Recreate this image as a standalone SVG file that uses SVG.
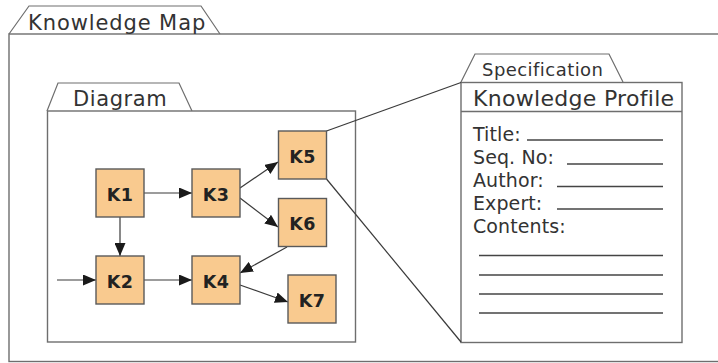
<svg xmlns="http://www.w3.org/2000/svg" width="718" height="363" viewBox="0 0 718 363">
  <defs>
    <marker id="arrow" markerWidth="13" markerHeight="11" refX="13" refY="5.5" orient="auto" markerUnits="userSpaceOnUse">
      <path d="M0,0 L13,5.5 L0,11 Z" fill="#1a1a1a"/>
    </marker>
    <style>
      .frame { fill: #ffffff; stroke: #6e6e6e; stroke-width: 1.4; }
      .tab { fill: #ffffff; stroke: #6e6e6e; stroke-width: 1.2; }
      .title { font-family: "DejaVu Sans", Verdana, sans-serif; fill: #333333; }
      .node rect { fill: #f9ca8f; stroke: #5a5a5a; stroke-width: 1.4; }
      .node text { font-family: "DejaVu Sans", Verdana, sans-serif; font-weight: bold; font-size: 17.5px; letter-spacing: 0.3px; fill: #222222; text-anchor: middle; }
      .edge { stroke: #3a3a3a; stroke-width: 1.2; fill: none; }
      .field { font-family: "DejaVu Sans", Verdana, sans-serif; font-size: 19px; letter-spacing: 0.1px; fill: #333333; }
      .rule { stroke: #444444; stroke-width: 1.3; }
    </style>
  </defs>

  <!-- Knowledge Map package -->
  <g id="knowledge-map">
    <path class="tab" d="M9,34 L29,6 L201,6 L220,34"/>
    <rect class="frame" x="9" y="34" width="715" height="327.5"/>
    <text class="title" x="28" y="30" font-size="21" letter-spacing="0.9">Knowledge Map</text>
  </g>

  <!-- Diagram package -->
  <g id="diagram">
    <path class="tab" d="M47,111 L58,83 L179,83 L192,111"/>
    <rect class="frame" x="47.5" y="111" width="308" height="231"/>
    <text class="title" x="73" y="106" font-size="21" letter-spacing="0.6">Diagram</text>
  </g>

  <!-- Knowledge Profile specification -->
  <g id="specification">
    <path class="tab" d="M461,82 L475,54 L609,54 L623,82"/>
    <rect class="frame" x="461" y="82.5" width="221" height="260"/>
    <line class="frame" x1="461" y1="111.5" x2="682" y2="111.5"/>
    <text class="title" x="482" y="76" font-size="18" letter-spacing="0.45">Specification</text>
    <text class="title" x="473" y="106" font-size="22" letter-spacing="0.3">Knowledge Profile</text>
    <text class="field" x="473" y="141">Title:</text>
    <text class="field" x="473" y="164">Seq. No:</text>
    <text class="field" x="473" y="187">Author:</text>
    <text class="field" x="473" y="210">Expert:</text>
    <text class="field" x="473" y="233">Contents:</text>
    <line class="rule" x1="527" y1="140" x2="663" y2="140"/>
    <line class="rule" x1="567" y1="164" x2="663" y2="164"/>
    <line class="rule" x1="557" y1="186.5" x2="663" y2="186.5"/>
    <line class="rule" x1="557" y1="209" x2="663" y2="209"/>
    <line class="rule" x1="479" y1="255.5" x2="663" y2="255.5"/>
    <line class="rule" x1="479" y1="275" x2="663" y2="275"/>
    <line class="rule" x1="479" y1="294" x2="663" y2="294"/>
    <line class="rule" x1="479" y1="313" x2="663" y2="313"/>
  </g>

  <!-- Connectors -->
  <g id="connectors">
    <line class="edge" x1="57" y1="280" x2="96" y2="280" marker-end="url(#arrow)"/>
    <line class="edge" x1="144" y1="193" x2="192" y2="193" marker-end="url(#arrow)"/>
    <line class="edge" x1="120" y1="217" x2="120" y2="256" marker-end="url(#arrow)"/>
    <line class="edge" x1="144" y1="280" x2="192" y2="280" marker-end="url(#arrow)"/>
    <line class="edge" x1="240" y1="188" x2="278" y2="162" marker-end="url(#arrow)"/>
    <line class="edge" x1="240" y1="198" x2="278" y2="227" marker-end="url(#arrow)"/>
    <line class="edge" x1="287" y1="247" x2="240" y2="273" marker-end="url(#arrow)"/>
    <line class="edge" x1="240" y1="285" x2="288" y2="302" marker-end="url(#arrow)"/>
    <line class="edge" x1="326.5" y1="131" x2="461" y2="82.5"/>
    <line class="edge" x1="326.5" y1="179" x2="461" y2="342"/>
  </g>

  <!-- Knowledge nodes -->
  <g id="K1" class="node"><rect x="96" y="169" width="48" height="48"/><text x="120" y="200.5">K1</text></g>
  <g id="K2" class="node"><rect x="96" y="256" width="48" height="48"/><text x="120" y="287.5">K2</text></g>
  <g id="K3" class="node"><rect x="192" y="169" width="48" height="48"/><text x="216" y="200.5">K3</text></g>
  <g id="K4" class="node"><rect x="192" y="256" width="48" height="48"/><text x="216" y="287.5">K4</text></g>
  <g id="K5" class="node"><rect x="278.5" y="131" width="48" height="48"/><text x="302.5" y="162.5">K5</text></g>
  <g id="K6" class="node"><rect x="278.5" y="198.5" width="48" height="48"/><text x="302.5" y="230">K6</text></g>
  <g id="K7" class="node"><rect x="288" y="275" width="48" height="48"/><text x="312" y="306.5">K7</text></g>
</svg>
